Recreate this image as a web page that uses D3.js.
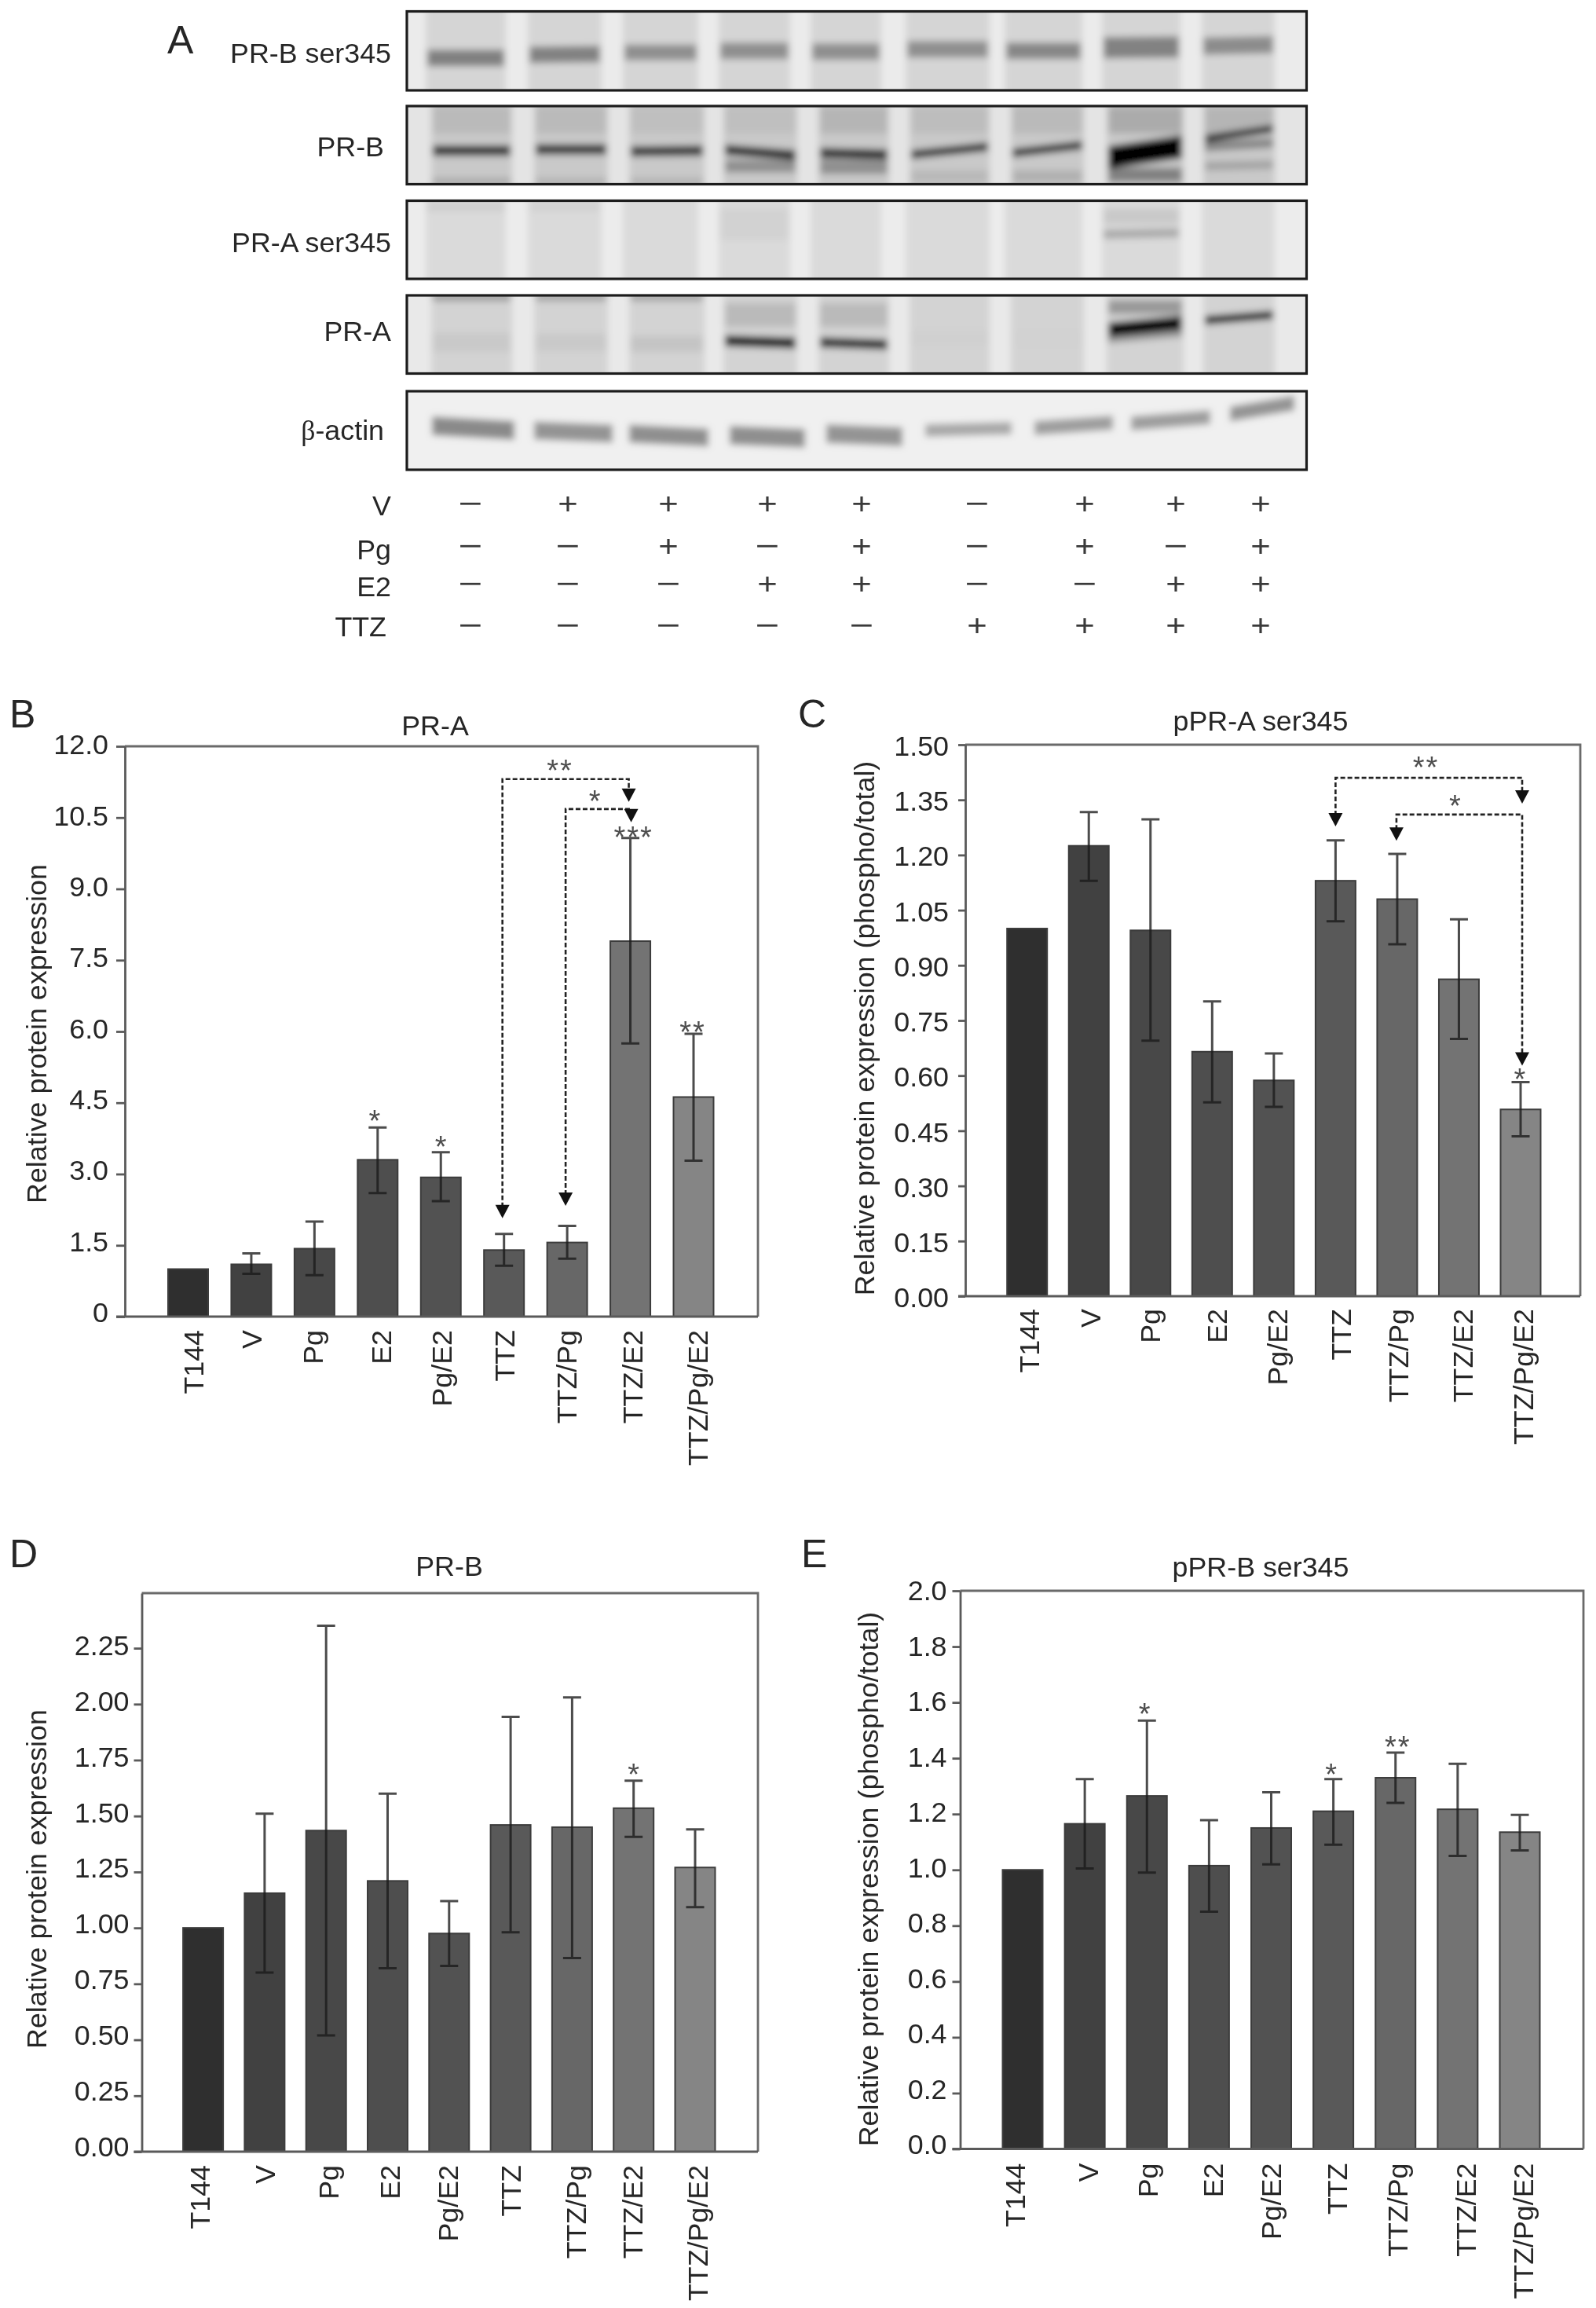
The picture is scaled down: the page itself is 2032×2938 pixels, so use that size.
<!DOCTYPE html>
<html><head><meta charset="utf-8">
<script src="https://cdn.jsdelivr.net/npm/d3@7/dist/d3.min.js"></script>
<style>
html,body{margin:0;padding:0;background:#fff}
svg{display:block;filter:blur(0.7px)}
text{font-family:"Liberation Sans",Arial,sans-serif;fill:#262626}
</style></head><body>
<svg id="fig" width="2032" height="2938" viewBox="0 0 2032 2938"></svg>
<script>
// ---------- data: bar charts ----------
const categories = ['T144','V','Pg','E2','Pg/E2','TTZ','TTZ/Pg','TTZ/E2','TTZ/Pg/E2'];

const prAValues = [1,1.1,1.43,3.3,2.93,1.4,1.56,7.9,4.62];
const prALow    = [1,0.9,0.87,2.6,2.43,1.07,1.22,5.75,3.28];
const prAHigh   = [1,1.33,2.0,3.98,3.46,1.74,1.91,10.07,5.95];
const prATicks  = [0,1.5,3,4.5,6,7.5,9,10.5,12];
const prATickLabels = ['0','1.5','3.0','4.5','6.0','7.5','9.0','10.5','12.0'];

const pprAValues = [1,1.225,0.995,0.665,0.587,1.13,1.08,0.862,0.508];
const pprALow    = [1,1.13,0.695,0.527,0.515,1.02,0.957,0.70,0.435];
const pprAHigh   = [1,1.317,1.297,0.802,0.66,1.24,1.203,1.025,0.582];
const pprATicks  = [0,0.15,0.3,0.45,0.6,0.75,0.9,1.05,1.2,1.35,1.5];
const pprATickLabels = ['0.00','0.15','0.30','0.45','0.60','0.75','0.90','1.05','1.20','1.35','1.50'];

const prBValues = [1,1.155,1.435,1.21,0.975,1.46,1.45,1.535,1.27];
const prBLow    = [1,0.80,0.52,0.82,0.83,0.98,0.865,1.407,1.093];
const prBHigh   = [1,1.51,2.35,1.60,1.12,1.943,2.03,1.658,1.44];
const prBTicks  = [0,0.25,0.5,0.75,1,1.25,1.5,1.75,2,2.25];
const prBTickLabels = ['0.00','0.25','0.50','0.75','1.00','1.25','1.50','1.75','2.00','2.25'];

const pprBValues = [1,1.165,1.265,1.015,1.15,1.21,1.33,1.217,1.135];
const pprBLow    = [1,1.005,0.99,0.85,1.02,1.09,1.24,1.05,1.07];
const pprBHigh   = [1,1.325,1.535,1.178,1.278,1.325,1.42,1.38,1.197];
const pprBTicks  = [0,0.2,0.4,0.6,0.8,1,1.2,1.4,1.6,1.8,2];
const pprBTickLabels = ['0.0','0.2','0.4','0.6','0.8','1.0','1.2','1.4','1.6','1.8','2.0'];

// significance marks: [category, star text, value at star centre, x nudge]
const prAStars = [['E2','*',4.22,-3],['Pg/E2','*',3.67,1],['TTZ/E2','***',10.18,4],['TTZ/Pg/E2','**',6.09,-1],['TTZ/Pg','**',11.59,-9],['TTZ/Pg','*',10.94,36]];
const pprAStars = [['TTZ/E2','**',1.45,-42],['TTZ/E2','*',1.346,-4],['TTZ/Pg/E2','*',0.603,0]];
const prBStars = [['TTZ/E2','*',1.705,1]];
const pprBStars = [['Pg','*',1.574,-2],['TTZ','*',1.357,-2],['TTZ/Pg','**',1.458,3]];

// comparison brackets: [left cat, right cat, bracket value, left tip value, right tip value, left nudge, right nudge]
const prABrackets = [['TTZ','TTZ/E2',11.31,2.07,10.83,-2,-2],['TTZ/Pg','TTZ/E2',10.68,2.33,10.4,-2,1]];
const pprABrackets = [['TTZ','TTZ/Pg/E2',1.41,1.278,1.34,0,2],['TTZ/Pg','TTZ/Pg/E2',1.31,1.239,0.627,-1,2]];

// ---------- data: immunoblot (panel A) ----------
// band rows: [lane, migration at lane start, migration at lane end, band thickness, signal]
const blotPRBser345 = [
 [0,.59,.59,.21,.5],[1,.55,.54,.21,.49],[2,.52,.52,.2,.44],[3,.5,.5,.21,.44],[4,.51,.51,.21,.44],
 [5,.48,.48,.21,.44],[6,.5,.5,.21,.47],[7,.46,.45,.27,.49],[8,.44,.42,.22,.45]];
const blotPRB = [
 [0,.18,.18,.34,.27],[1,.18,.18,.34,.27],[2,.18,.18,.34,.25],[3,.18,.18,.34,.25],[4,.18,.18,.34,.29],[5,.18,.18,.34,.26],[6,.18,.18,.34,.27],[7,.18,.18,.34,.33],[8,.18,.18,.34,.29],
 [0,.96,.96,.08,.34],[1,.96,.96,.08,.31],[2,.96,.96,.08,.31],[5,.9,.9,.15,.28],[6,.9,.9,.15,.31],[7,.88,.88,.18,.5],
 [3,.77,.77,.16,.44],[4,.78,.78,.18,.44],[8,.52,.47,.12,.48],[8,.77,.75,.11,.36],
 [0,.57,.57,.13,.8],[1,.555,.555,.13,.78],[2,.58,.57,.13,.78],[3,.56,.63,.13,.82],[4,.6,.62,.13,.82],
 [5,.62,.52,.11,.8],[6,.6,.5,.11,.78],[7,.66,.52,.29,1],[8,.42,.29,.1,.84]];
const blotPRAser345 = [[0,.08,.08,.1,.2],[1,.08,.08,.1,.18],[3,.3,.3,.4,.175],[7,.2,.2,.2,.21],[7,.43,.41,.11,.34]];
const blotPRA = [
 [0,.03,.03,.08,.42],[1,.03,.03,.08,.38],[2,.03,.03,.08,.38],
 [0,.6,.6,.24,.21],[1,.6,.6,.22,.21],[2,.62,.62,.2,.23],
 [3,.25,.25,.3,.27],[4,.25,.25,.3,.27],[5,.55,.55,.2,.185],[6,.55,.55,.2,.175],
 [7,.15,.15,.18,.4],[7,.5,.42,.22,.42],[3,.58,.61,.14,.9],[4,.6,.63,.13,.82],
 [7,.44,.35,.18,1],[8,.32,.25,.11,.88]];
const blotActin = [
 [0,.44,.5,.24,.46],[1,.5,.54,.23,.42],[2,.54,.59,.23,.44],[3,.56,.6,.24,.44],[4,.54,.58,.24,.42],
 [5,.5,.47,.16,.34],[6,.47,.4,.18,.38],[7,.41,.33,.18,.38],[8,.29,.15,.19,.42]];

const blotLabels = ['PR-B ser345','PR-B','PR-A ser345','PR-A','β-actin'];

const treatmentNames = ['V','Pg','E2','TTZ'];
const signsV   = ['-','+','+','+','+','-','+','+','+'];
const signsPg  = ['-','-','+','-','+','-','+','-','+'];
const signsE2  = ['-','-','-','+','+','-','-','+','+'];
const signsTTZ = ['-','-','-','-','-','+','+','+','+'];

// ---------- layout ----------
const svg = d3.select('#fig');
const barFill = ['#2f2f2f','#414141','#484848','#4e4e4e','#525252','#595959','#676767','#737373','#858585'];
const fontSize = 35.8;

svg.append('defs').append('filter').attr('id','bandBlur').attr('x','-20%').attr('y','-60%').attr('width','140%').attr('height','220%')
  .append('feGaussianBlur').attr('stdDeviation',4);

const signalGray = d3.scaleLinear().domain([0,1]).range(['#ffffff','#000000']);

function drawBlot(cfg, rows){
  const g = svg.append('g');
  const id = 'clip'+Math.round(cfg.top);
  svg.select('defs').append('clipPath').attr('id',id).append('rect')
    .attr('x',cfg.left).attr('y',cfg.top).attr('width',cfg.right-cfg.left).attr('height',cfg.bottom-cfg.top);
  const inner = g.append('g').attr('clip-path',`url(#${id})`);
  const my = d3.scaleLinear().domain([0,1]).range([cfg.top,cfg.bottom]);
  inner.append('rect').attr('x',cfg.left).attr('y',cfg.top).attr('width',cfg.right-cfg.left).attr('height',cfg.bottom-cfg.top).attr('fill',cfg.outer);
  const blur = inner.append('g').attr('filter','url(#bandBlur)');
  blur.append('rect').attr('x',cfg.left-30).attr('y',cfg.top-30).attr('width',cfg.right-cfg.left+60).attr('height',cfg.bottom-cfg.top+60).attr('fill',cfg.outer);
  if(cfg.laneFill){
    blur.selectAll('rect.lane').data(cfg.lanes).join('rect').attr('class','lane')
      .attr('x',d=>d[0]).attr('width',d=>d[1]-d[0])
      .attr('y',cfg.top-20).attr('height',cfg.bottom-cfg.top+40).attr('fill',cfg.laneFill);
  }
  const line = d3.line();
  blur.selectAll('path.band').data(rows).join('path').attr('class','band')
    .attr('fill',d=>signalGray(d[4]))
    .attr('d',d=>{
      const [a,b] = cfg.lanes[d[0]];
      const t = (my(d[3])-my(0))/2;
      return line([[a+2,my(d[1])-t],[b-2,my(d[2])-t],[b-2,my(d[2])+t],[a+2,my(d[1])+t]])+'Z';
    });
  g.append('rect').attr('x',cfg.left).attr('y',cfg.top).attr('width',cfg.right-cfg.left).attr('height',cfg.bottom-cfg.top)
    .attr('fill','none').attr('stroke','#1c1c1c').attr('stroke-width',3.2);
}

const lanesThin = [[542,644],[672,766],[793,889],[915,1006],[1032,1122],[1153,1260],[1279,1378],[1403,1503],[1530,1623]];
const lanesWide = [[549,652],[680,774],[801,897],[921,1015],[1042,1132],[1158,1260],[1287,1380],[1409,1507],[1532,1623]];
const lanesActin = [[548,657],[678,782],[799,904],[927,1027],[1050,1151],[1176,1290],[1315,1419],[1438,1543],[1564,1650]];
const blotLeft = 518, blotRight = 1663.5;

drawBlot({left:blotLeft,right:blotRight,top:14.5,bottom:115,outer:'#ebebeb',laneFill:'#d5d5d5',lanes:lanesThin},blotPRBser345);
drawBlot({left:blotLeft,right:blotRight,top:135,bottom:234.5,outer:'#e4e4e4',laneFill:'#c9c9c9',lanes:lanesWide},blotPRB);
drawBlot({left:blotLeft,right:blotRight,top:255.5,bottom:355,outer:'#ececec',laneFill:'#dadada',lanes:lanesThin},blotPRAser345);
drawBlot({left:blotLeft,right:blotRight,top:376,bottom:475.5,outer:'#e9e9e9',laneFill:'#d3d3d3',lanes:lanesWide},blotPRA);
drawBlot({left:blotLeft,right:blotRight,top:498,bottom:598,outer:'#f0f0f0',laneFill:null,lanes:lanesActin},blotActin);

const blotLabelX = [498,489,498,498,489], blotLabelY = [68,187,309,422,548];
const blotText = svg.selectAll('text.bl').data(blotLabels).join('text').attr('class','bl')
  .attr('x',(d,i)=>blotLabelX[i]).attr('y',(d,i)=>blotLabelY[i]+12).attr('text-anchor','end')
  .attr('font-size',fontSize);
blotText.each(function(d){
  const t = d3.select(this);
  if(d[0]==='β'){
    t.append('tspan').style('font-family','"Liberation Serif"').text('β');
    t.append('tspan').text(d.slice(1));
  } else t.text(d);
});

// treatment table
const laneX = d3.scaleOrdinal(d3.range(9),[599,723,851,977,1097,1244,1381,1497,1605]);
const rowY = d3.scaleOrdinal(treatmentNames,[640,694,742,795]);
const labelRowY = d3.scaleOrdinal(treatmentNames,[656,712,759,810]);
const labelRowX = d3.scaleOrdinal(treatmentNames,[498,498,498,492]);
[signsV,signsPg,signsE2,signsTTZ].forEach((signs,r)=>{
  const name = treatmentNames[r];
  svg.append('text').attr('x',labelRowX(name)).attr('y',labelRowY(name)).attr('text-anchor','end').attr('font-size',fontSize).text(name);
  svg.selectAll('text.s'+r).data(signs).join('text').attr('class','s'+r)
    .attr('transform',(d,i)=>`translate(${laneX(i)},${rowY(name)+14}) scale(${d==='+'?1.12:1.35},1)`)
    .attr('text-anchor','middle').attr('font-size',39).style('fill','#3a3a3a')
    .text(d=>d==='+'?'+':'\u2212');
});

// bar panels
function drawPanel(c){
  const x = d3.scalePoint().domain(categories).range(c.xRange);
  const y = d3.scaleLinear().domain([0,c.max]).range([c.bottom,c.top]);
  const g = svg.append('g');

  // frame
  g.append('path').attr('d',`M${c.left},${c.top}H${c.right}V${c.bottom}`).attr('fill','none').attr('stroke','#6a6a6a').attr('stroke-width',2.8);

  // bars
  g.selectAll('rect.bar').data(categories).join('rect').attr('class','bar')
    .attr('x',d=>x(d)-25.5).attr('width',51)
    .attr('y',(d,i)=>y(c.values[i])).attr('height',(d,i)=>y(0)-y(c.values[i]))
    .attr('fill',(d,i)=>barFill[i]).attr('stroke','#3c3c3c').attr('stroke-width',2);

  // error bars
  const eb = g.append('g').attr('stroke','#1a1a1a').attr('stroke-opacity',0.78).attr('stroke-width',3).attr('fill','none');
  eb.selectAll('path').data(categories.slice(1)).join('path')
    .attr('d',(d,j)=>{
      const i=j+1, cx=x(d), lo=y(c.low[i]), hi=y(c.high[i]);
      return `M${cx-11.5},${hi}H${cx+11.5}M${cx},${hi}V${lo}M${cx-11.5},${lo}H${cx+11.5}`;
    });

  // axes
  const ya = d3.axisLeft(y).tickValues(c.ticks).tickFormat((d,i)=>c.tickLabels[i]).tickSize(c.tickLen).tickSizeOuter(0).tickPadding(c.tickPad);
  const ag = g.append('g').attr('transform',`translate(${c.left},0)`).call(ya);
  ag.selectAll('path,line').attr('stroke','#5a5a5a').attr('stroke-width',2.8);
  const labelShift = d3.scaleLinear().domain([0,c.max]).range(c.tickDy);
  ag.selectAll('.tick text').attr('font-size',fontSize).attr('font-family','"Liberation Sans"').attr('fill','#262626')
    .attr('y',d=>labelShift(d));

  const xa = d3.axisBottom(x).tickSize(0).tickPadding(0);
  const bg = g.append('g').attr('transform',`translate(0,${c.bottom})`).call(xa);
  bg.select('.domain').remove();
  bg.selectAll('.tick text')
    .attr('font-size',fontSize).attr('font-family','"Liberation Sans"').attr('fill','#262626')
    .attr('text-anchor','end').attr('dy',null)
    .attr('transform',(d,i)=>`translate(${c.labelDx[i]+12.5},${c.labelGap}) rotate(-90)`)
    .attr('x',0).attr('y',0);
  g.append('line').attr('x1',c.left-c.tickLen).attr('x2',c.right).attr('y1',c.bottom).attr('y2',c.bottom).attr('stroke','#5a5a5a').attr('stroke-width',2.8);

  // titles
  g.append('text').attr('x',c.titleX).attr('y',c.titleY).attr('text-anchor','middle').attr('font-size',fontSize).text(c.title);
  g.append('text').attr('transform',`translate(${c.yTitleX+12.5},${c.yTitleCy}) rotate(-90)`).attr('text-anchor','middle').attr('font-size',fontSize).text(c.yTitle);
  g.append('text').attr('x',c.letterX).attr('y',c.letterY).attr('font-size',50).text(c.letter);

  // stars
  const starSize = 38;
  g.selectAll('text.star').data(c.stars||[]).join('text').attr('class','star')
    .attr('x',d=>x(d[0])+d[3]).attr('y',d=>y(d[2])+starSize*0.5)
    .attr('text-anchor','middle').attr('font-size',starSize).attr('letter-spacing',2).style('fill','#4d4d4d').text(d=>d[1]);

  // brackets
  (c.brackets||[]).forEach(b=>{
    const xl=x(b[0])+b[5], xr=x(b[1])+b[6], yb=y(b[2]), tl=y(b[3]), tr=y(b[4]);
    g.append('path').attr('fill','none').attr('stroke','#222').attr('stroke-width',2.6).attr('stroke-dasharray','6,3')
      .attr('d',`M${xl},${tl-14}V${yb}H${xr}V${tr-14}`);
    [[xl,tl],[xr,tr]].forEach(([px,py])=>{
      g.append('path').attr('fill','#111').attr('d',`M${px-9},${py-17}H${px+9}L${px},${py}Z`);
    });
  });
}

drawPanel({letter:'B',letterX:12,letterY:926,title:'PR-A',titleX:554,titleY:936,
  yTitle:'Relative protein expression',yTitleX:46,yTitleCy:1316,
  left:159,right:965,top:950,bottom:1676,max:12,xRange:[239.5,883],tickLen:11,tickPad:10,labelGap:17,tickDy:[-5,-1.5],
  labelDx:[6,0,-2,4.5,.6,.6,-1,2.5,5],
  values:prAValues,low:prALow,high:prAHigh,ticks:prATicks,tickLabels:prATickLabels,stars:prAStars,brackets:prABrackets});
drawPanel({letter:'C',letterX:1016,letterY:926,title:'pPR-A ser345',titleX:1605,titleY:930,
  yTitle:'Relative protein expression (phospho/total)',yTitleX:1100,yTitleCy:1309,
  left:1229,right:2012,top:948,bottom:1650,max:1.5,xRange:[1307.7,1936],tickLen:9,tickPad:12,labelGap:16,tickDy:[2.5,2],
  labelDx:[2,2,-1,6,4,6.5,1,4.6,3],
  values:pprAValues,low:pprALow,high:pprAHigh,ticks:pprATicks,tickLabels:pprATickLabels,stars:pprAStars,brackets:pprABrackets});
drawPanel({letter:'D',letterX:12,letterY:1995,title:'PR-B',titleX:572,titleY:2006,
  yTitle:'Relative protein expression',yTitleX:46,yTitleCy:2392,
  left:180.5,right:965,top:2028,bottom:2739,max:2.496,xRange:[258.6,885],tickLen:10,tickPad:6,labelGap:17,tickDy:[-6.4,-2.5],
  labelDx:[-5,0,2.5,2,-2,0,4.5,-2,3],
  values:prBValues,low:prBLow,high:prBHigh,ticks:prBTicks,tickLabels:prBTickLabels,stars:prBStars});
drawPanel({letter:'E',letterX:1020,letterY:1995,title:'pPR-B ser345',titleX:1605,titleY:2007,
  yTitle:'Relative protein expression (phospho/total)',yTitleX:1105,yTitleCy:2392,
  left:1222.5,right:2016,top:2025,bottom:2735.5,max:2,xRange:[1302,1935],tickLen:10,tickPad:7,labelGap:18,tickDy:[-5,0],
  labelDx:[-10.5,4,.6,5,-1,4.6,2,10.5,4],
  values:pprBValues,low:pprBLow,high:pprBHigh,ticks:pprBTicks,tickLabels:pprBTickLabels,stars:pprBStars});

// panel A letter
svg.append('text').attr('x',213).attr('y',68).attr('font-size',50).text('A');
</script>
</body></html>
